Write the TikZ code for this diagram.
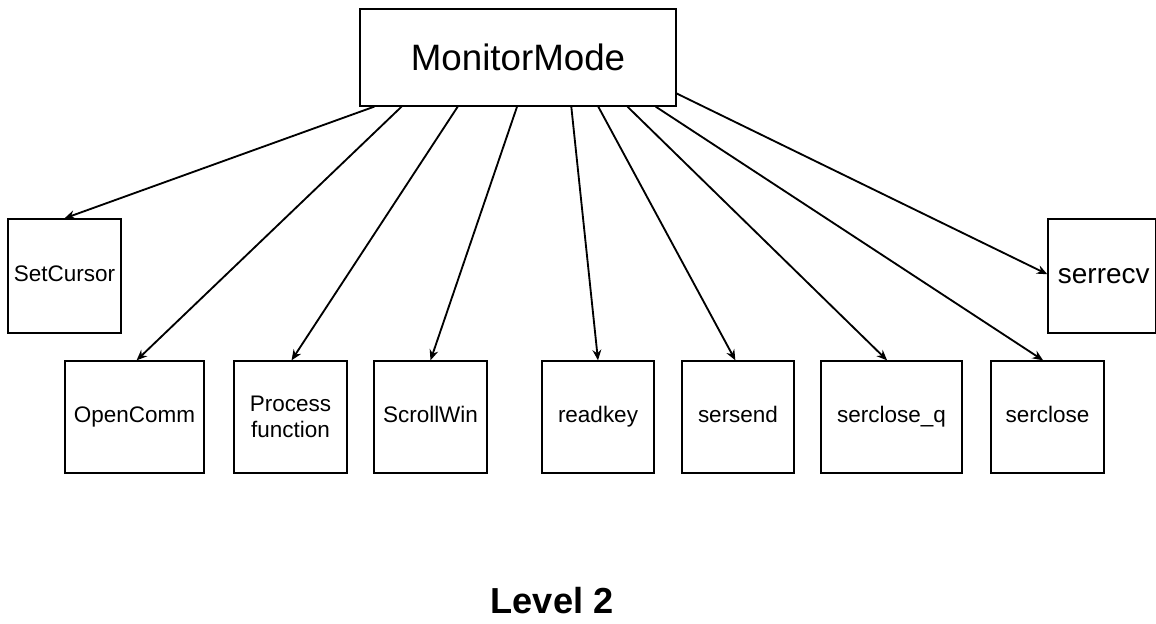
\documentclass[tikz,border=0pt]{standalone}
\usepackage{fontspec}
\setmainfont{Liberation Sans}
\usetikzlibrary{arrows.meta,calc}
\tikzset{
  box/.style={draw=black, line width=0.75pt, rectangle, inner sep=0pt, align=center, font=\fontsize{12.8}{14.5}\selectfont},
  one/.style={text height=8pt, text depth=1.2pt},
  conn/.style={draw=black, line width=1.05pt, -{Stealth[length=6pt,width=5pt]}}
}
\begin{document}
\begin{tikzpicture}[x=0.02cm,y=-0.02cm]
\useasboundingbox (0,0) rectangle (1156,624);
\node[box, minimum width=6.32cm, minimum height=1.94cm, font=\fontsize{20.9}{24}\selectfont] (mm) at (518,57.5) {MonitorMode};
\node[box, one, minimum width=2.26cm, minimum height=2.28cm] (setc) at (64.5,276) {SetCursor};
\node[box, one, minimum width=2.78cm, minimum height=2.24cm] (open) at (134.5,417) {OpenComm};
\node[box, minimum width=2.26cm, minimum height=2.24cm] (proc) at (290.5,417) {Process\\function};
\node[box, one, minimum width=2.26cm, minimum height=2.24cm] (scroll) at (430.5,417) {ScrollWin};
\node[box, one, minimum width=2.24cm, minimum height=2.24cm] (readkey) at (598,417) {readkey};
\node[box, one, minimum width=2.24cm, minimum height=2.24cm] (sersend) at (738,417) {sersend};
\node[box, one, minimum width=2.82cm, minimum height=2.24cm] (sercq) at (891.5,417) {serclose\_q};
\node[box, one, minimum width=2.26cm, minimum height=2.24cm] (serc) at (1047.5,417) {serclose};
\node[box, minimum width=2.16cm, minimum height=2.28cm, text height=10pt, text depth=1.5pt, font=\fontsize{15.9}{18}\selectfont] (serrecv) at (1102,276) {\hspace*{2pt}serrecv};
\node[font=\bfseries\fontsize{20.6}{24}\selectfont] (lvl) at (552,601) {Level 2};

\draw[conn] ($(mm.south west)!0.047!(mm.south east)$) -- (setc.north);
\draw[conn] ($(mm.south west)!0.133!(mm.south east)$) -- ([xshift=1.2pt]open.north);
\draw[conn] ($(mm.south west)!0.310!(mm.south east)$) -- ([xshift=0.6pt]proc.north);
\draw[conn] ($(mm.south west)!0.497!(mm.south east)$) -- (scroll.north);
\draw[conn] ($(mm.south west)!0.668!(mm.south east)$) -- (readkey.north);
\draw[conn] ($(mm.south west)!0.753!(mm.south east)$) -- ([xshift=-1.5pt]sersend.north);
\draw[conn] ($(mm.south west)!0.845!(mm.south east)$) -- ([xshift=-2.5pt]sercq.north);
\draw[conn] ($(mm.south west)!0.934!(mm.south east)$) -- ([xshift=-2.5pt]serc.north);
\draw[conn] ($(mm.north east)!0.866!(mm.south east)$) -- ([yshift=1pt]serrecv.west);
\end{tikzpicture}
\end{document}
